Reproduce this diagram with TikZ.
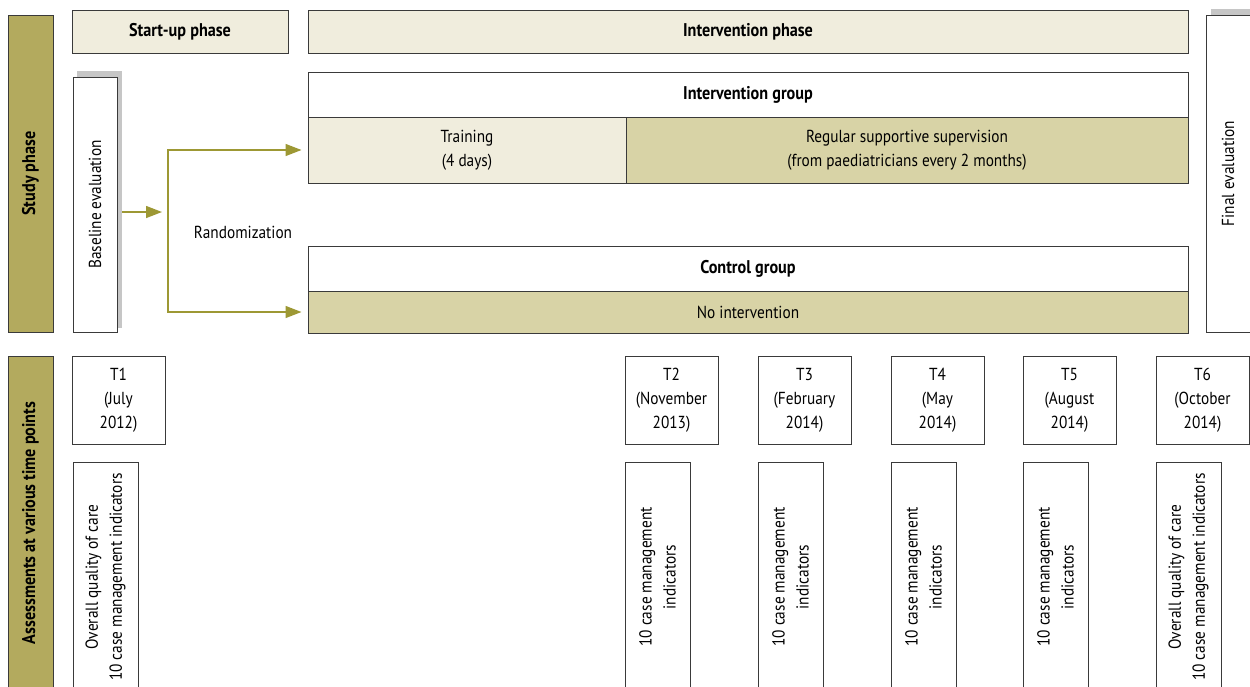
\documentclass[tikz,border=0pt]{standalone}
\usepackage{fontspec}
\setmainfont{PT Sans}[FakeStretch=0.88]
\usetikzlibrary{arrows.meta}

\definecolor{olivebar}{HTML}{B3AA5E}
\definecolor{lightfill}{HTML}{F0EDDD}
\definecolor{darkfill}{HTML}{D8D3A6}
\definecolor{arrowolive}{HTML}{9D9834}
\definecolor{shadowgray}{HTML}{C6C6C6}
\definecolor{edgegray}{HTML}{3A3A3A}

\begin{document}
\begin{tikzpicture}[x=1pt, y=-1pt,
    every node/.style={font=\fontsize{17.4}{24}\selectfont, align=center, inner sep=0pt},
    size/.style 2 args={minimum width=#1pt, minimum height=#2pt},
    boxnode/.style={rectangle, draw=edgegray, line width=1pt, fill=white},
    boldtext/.style={font=\fontsize{18.4}{24}\selectfont\bfseries},
    barnode/.style={boxnode, fill=olivebar, boldtext, rotate=90},
    phasenode/.style={boxnode, fill=lightfill, boldtext},
    shadownode/.style={rectangle, fill=shadowgray, draw=none},
    flowarrow/.style={draw=arrowolive, line width=1.4pt, -{Triangle[length=16pt, width=12pt]}},
]
\useasboundingbox (0,0) rectangle (1250,686);
\clip (0,0) rectangle (1250,686);

% study phase
\node[barnode, size={317}{45}]              (studybar)  at (30.5,173.5) {Study phase};
\node[phasenode, size={216}{43}]            (startup)   at (180,31.5)   {Start-up phase};
\node[phasenode, size={880}{43}]            (intphase)  at (748,31.5)   {Intervention phase};

\node[shadownode, size={45}{257}]           (baseshadow) at (99.5,199.5) {};
\node[boxnode, rotate=90, size={255}{44}]   (base)      at (95,204.5)   {Baseline evaluation};
\node[shadownode, size={45}{317}]           (finalshadow) at (1233.5,167.5) {};
\node[boxnode, rotate=90, size={317}{44}]   (final)     at (1228,173.5) {Final evaluation};

\node[boxnode, boldtext, size={880}{45}]       (intgroup)  at (748,94.5)   {Intervention group};
\node[boxnode, fill=lightfill, size={318}{66}] (train)     at (467,150)    {Training\\(4 days)};
\node[boxnode, fill=darkfill, size={562}{66}]  (superv)    at (907,150)    {Regular supportive supervision\\(from paediatricians every 2 months)};
\node[boxnode, boldtext, size={880}{45}]       (ctrlgroup) at (748,268.5)  {Control group};
\node[boxnode, fill=darkfill, size={880}{42}]  (noint)     at (748,312)    {No intervention};

\coordinate (rnd) at (168,212);
\node (randlabel) at (243,232) {Randomization};
\draw[flowarrow] (baseshadow.east |- rnd) -- ([xshift=-6pt]rnd);
\draw[flowarrow] (rnd) |- ([xshift=-6pt]train.west);
\draw[flowarrow] (rnd) |- ([xshift=-6pt]noint.west);

% assessments
\node[barnode, size={334}{45}]              (assessbar) at (30.5,523)   {Assessments at various time points};

\node[boxnode, size={93}{88}]               (t1) at (118.5,400) {T1\\(July\\2012)};
\node[boxnode, rotate=90, size={230}{65}]   (a1) at (105.5,577) {Overall quality of care\\10 case management indicators};
\foreach \n/\lx/\mon/\yr in {2/625/November/2013, 3/758/February/2014, 4/891/May/2014, 5/1023/August/2014} {
    \node[boxnode, size={93}{88}]             (t\n) at (\lx+46.5,400) {T\n\\(\mon\\\yr)};
    \node[boxnode, rotate=90, size={230}{65}] (a\n) at (\lx+32.5,577) {10 case management\\indicators};
}
\node[boxnode, size={93}{88}]               (t6) at (1202.5,400) {T6\\(October\\2014)};
\node[boxnode, rotate=90, size={230}{65}]   (a6) at (1188.5,577) {Overall quality of care\\10 case management indicators};
\end{tikzpicture}
\end{document}
